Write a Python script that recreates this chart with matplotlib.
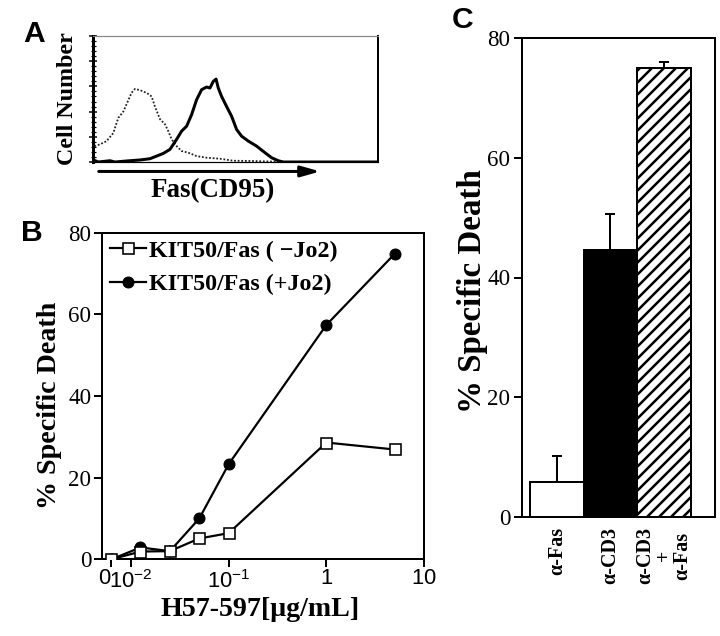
import matplotlib
matplotlib.use('Agg')
import matplotlib.pyplot as plt
from matplotlib.ticker import MultipleLocator, FixedLocator, NullLocator
from matplotlib.transforms import ScaledTranslation

plt.rcParams['font.family'] = ['Liberation Serif', 'DejaVu Serif']
plt.rcParams['mathtext.fontset'] = 'custom'
plt.rcParams['mathtext.rm'] = 'Liberation Sans'
plt.rcParams['mathtext.default'] = 'rm'
plt.rcParams['hatch.linewidth'] = 2.5

# ---------------- Panel A: flow histograms ----------------
iso_channel = [4, 24, 48, 72, 90, 108, 126, 138, 150, 168, 180, 198, 210, 222, 240,
               258, 270, 282, 300, 318, 342, 372, 408, 456, 504, 576, 648, 700, 1024]
iso_count = [12.6, 14, 16.6, 23, 35, 40, 49, 55, 58, 57, 56, 54, 52, 44, 34,
             30, 24.5, 18, 12.6, 8.7, 7.4, 4.7, 3.4, 2.6, 1.0, 0.8, 0.3, 0, 0]
fas_channel = [4, 18, 60, 78, 120, 168, 204, 228, 252, 276, 300, 318, 336, 354, 372,
               390, 408, 420, 432, 442, 450, 462, 480, 498, 516, 534, 558, 588, 618,
               642, 666, 684, 1024]
fas_count = [1.3, 0, 1.0, 0, 0.8, 1.6, 2.6, 4.7, 6.8, 10, 18, 24.5, 28.4, 37.6, 49.5,
             57.4, 59.5, 58.7, 64, 65.8, 58.7, 52, 44, 36.3, 25.8, 20.5, 16.6, 12.6, 7.4,
             3.4, 1.0, 0, 0]

# ---------------- Panel B: dose response ----------------
conc = [0.0063, 0.0125, 0.025, 0.05, 0.1, 1, 5]
death_minus_jo2 = [0, 1.9, 2.0, 5.1, 6.4, 28.6, 26.9]
death_plus_jo2 = [0, 2.9, 2.0, 10.0, 23.3, 57.4, 74.8]
b_xticks = [0.0063, 0.01, 0.1, 1, 10]
b_xticklabels = ['$0$', r'$10^{-2}$', r'$10^{-1}$', '$1$', '$10$']
b_series_labels = ['KIT50/Fas ( \u2212Jo2)', 'KIT50/Fas (+Jo2)']

# ---------------- Panel C: bars ----------------
c_categories = ['\u03b1-Fas', '\u03b1-CD3', '\u03b1-CD3\n+\n\u03b1-Fas']
c_values = [5.8, 44.6, 75.0]
c_errors = [4.4, 6.0, 1.0]

W, H = 720, 636
fig = plt.figure(figsize=(W / 72, H / 72), dpi=72)


def ax_px(left, top, right, bottom):
    return fig.add_axes([left / W, 1 - bottom / H, (right - left) / W, (bottom - top) / H])


# ---- Panel A ----
axA = ax_px(93.3, 36, 377.7, 162)
axA.plot(iso_channel, iso_count, color='#222222', lw=1.8, ls=(0, (1, 1)))
axA.plot(fas_channel, fas_count, color='black', lw=3)
axA.set_xlim(0, 1024)
axA.set_ylim(0, 100)
axA.xaxis.set_major_locator(NullLocator())
axA.yaxis.set_major_locator(MultipleLocator(20))
axA.yaxis.set_minor_locator(MultipleLocator(4))
axA.tick_params(axis='y', which='major', direction='inout', length=8, width=1.5, labelleft=False)
axA.tick_params(axis='y', which='minor', direction='inout', length=5, width=1.2)
axA.spines['left'].set_linewidth(3)
axA.spines['top'].set_linewidth(1.2)
axA.spines['top'].set_color('#888888')
axA.spines['right'].set_linewidth(2)
axA.spines['bottom'].set_linewidth(1.2)
axA.set_ylabel('Cell Number', fontsize=24, fontweight='bold')
axA.yaxis.set_label_coords(-0.055, 0.5)
axA.annotate('', xy=(0.805, -0.075), xytext=(0.012, -0.075), xycoords='axes fraction',
             arrowprops=dict(arrowstyle='-|>,head_length=1.6,head_width=0.45', lw=3, color='black'),
             annotation_clip=False)
axA.text(0.42, -0.13, 'Fas(CD95)', transform=axA.transAxes, ha='center', va='top',
         fontsize=27, fontweight='bold')

# ---- Panel B ----
axB = ax_px(102.3, 232.7, 424, 559.3)
axB.plot(conc, death_minus_jo2, color='black', lw=2.2, marker='s', ms=11,
         mfc='white', mec='black', mew=1.6, label=b_series_labels[0], zorder=3)
axB.plot(conc, death_plus_jo2, color='black', lw=2.2, marker='o', ms=11,
         mfc='black', mec='black', label=b_series_labels[1], zorder=2)
axB.set_xscale('log')
axB.set_xlim(0.00508, 10)
axB.set_ylim(0, 80)
axB.xaxis.set_major_locator(FixedLocator(b_xticks))
axB.xaxis.set_minor_locator(NullLocator())
axB.set_xticklabels(b_xticklabels, fontsize=22)
xlabs = axB.get_xticklabels()
xlabs[0].set_horizontalalignment('right')
xlabs[0].set_transform(xlabs[0].get_transform() + ScaledTranslation(2 / 72, 0, fig.dpi_scale_trans))
xlabs[1].set_transform(xlabs[1].get_transform() + ScaledTranslation(14 / 72, 0, fig.dpi_scale_trans))
axB.yaxis.set_major_locator(MultipleLocator(20))
for lab in axB.get_yticklabels():
    lab.set_fontsize(23)
axB.tick_params(direction='out', length=8, width=2, pad=3)
for s in axB.spines.values():
    s.set_linewidth(2)
axB.set_ylabel('% Specific Death', fontsize=28, fontweight='bold')
axB.yaxis.set_label_coords(-0.125, 0.47)
axB.set_xlabel('H57-597[\u03bcg/mL]', fontsize=28, fontweight='bold')
axB.xaxis.set_label_coords(0.49, -0.115)
leg = axB.legend(loc='upper left', bbox_to_anchor=(0.0, 1.0), frameon=False,
                 prop=dict(size=24, weight='bold'), handlelength=1.5, handletextpad=0.15,
                 labelspacing=0.5, borderaxespad=0.1, borderpad=0.2)

# ---- Panel C ----
axC = ax_px(521.7, 38, 715, 517)
xs = range(len(c_values))
bars = axC.bar(xs, c_values, width=1.0, color=['white', 'black', 'white'],
               edgecolor='black', linewidth=2, zorder=2)
bars[2].set_hatch('//')
axC.errorbar(xs, c_values, yerr=[[0] * len(c_errors), c_errors], fmt='none',
             ecolor='black', elinewidth=2, capsize=5, capthick=2, zorder=1)
axC.set_xlim(-0.655, 2.953)
axC.set_ylim(0, 80)
axC.yaxis.set_major_locator(MultipleLocator(20))
axC.set_xticks(list(xs))
axC.set_xticklabels(c_categories, rotation=90, fontsize=20, fontweight='bold',
                    linespacing=0.9, multialignment='center')
axC.tick_params(axis='x', length=0, pad=10)
axC.tick_params(axis='y', direction='out', length=8, width=2, labelsize=23)
for s in axC.spines.values():
    s.set_linewidth(2)
axC.set_ylabel('% Specific Death', fontsize=33, fontweight='bold')
axC.yaxis.set_label_coords(-0.172, 0.472)

# ---- Panel letters ----
for letter, (px, py) in {'A': (34, 34), 'B': (32, 233), 'C': (463, 20)}.items():
    fig.text(px / W, 1 - py / H, letter, fontfamily='Liberation Sans', fontweight='bold',
             fontsize=30, ha='center', va='center')

fig.savefig('out.png', dpi=72)
